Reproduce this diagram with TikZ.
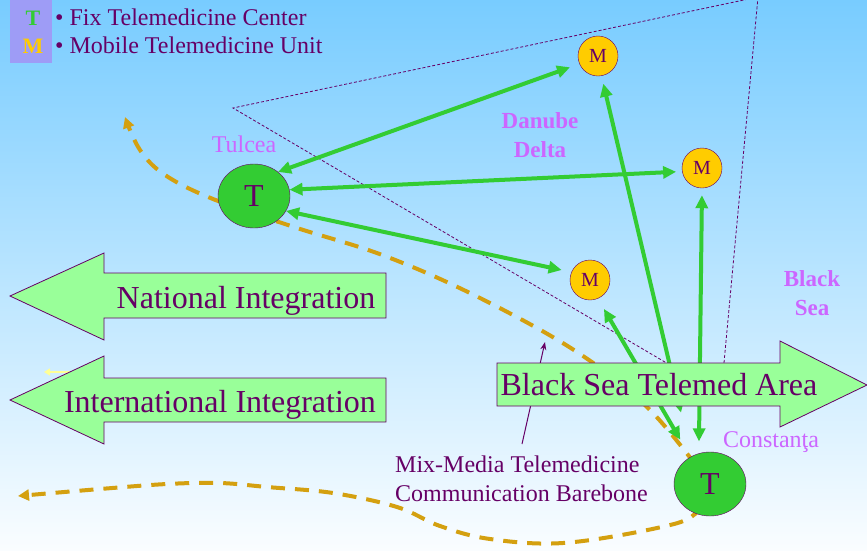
\documentclass[tikz,border=0pt]{standalone}
\usepackage{fontspec}
\setmainfont{Liberation Serif}
\usetikzlibrary{arrows.meta,shapes.geometric}
\definecolor{txtpurple}{RGB}{102,0,102}
\definecolor{cityviolet}{RGB}{204,102,255}
\definecolor{fixgreen}{RGB}{51,204,51}
\definecolor{mobyellow}{RGB}{255,204,0}
\definecolor{routegold}{RGB}{212,160,16}
\definecolor{areagreen}{RGB}{153,255,153}
\definecolor{legendblue}{RGB}{158,156,246}
\definecolor{sparkyellow}{RGB}{255,255,150}
\definecolor{skytop}{RGB}{120,204,255}
\definecolor{skybottom}{RGB}{250,253,255}

\begin{document}
\begin{tikzpicture}[x=1pt,y=-1pt]
  \tikzstyle{fix}=[ellipse,draw=txtpurple,fill=fixgreen,minimum width=72pt,minimum height=64pt,inner sep=0pt,text=txtpurple,font=\fontsize{32}{36}\selectfont]
  \tikzstyle{mobile}=[circle,draw=txtpurple,fill=mobyellow,minimum size=40pt,inner sep=0pt,text=txtpurple,font=\fontsize{20}{24}\selectfont]
  \tikzstyle{link}=[{Triangle[length=13pt,width=12pt]}-{Triangle[length=13pt,width=12pt]},line width=4pt,draw=fixgreen]
  \tikzstyle{route}=[-{Triangle[length=11pt,width=11pt]},line width=4pt,draw=routegold,dash pattern=on 14pt off 10pt]
  \tikzstyle{zone}=[draw=txtpurple,line width=0.8pt,dash pattern=on 3pt off 2pt]
  \tikzstyle{area}=[draw=txtpurple,fill=areagreen,line width=0.8pt]
  \tikzstyle{areatext}=[anchor=base,inner sep=0pt,text=txtpurple,font=\fontsize{32}{38}\selectfont]
  \tikzstyle{plain}=[anchor=base west,inner sep=0pt,text=txtpurple,font=\fontsize{24}{28.8}\selectfont]
  \tikzstyle{key}=[anchor=base,inner sep=0pt,font=\fontsize{22}{26}\selectfont\bfseries]
  \tikzstyle{city}=[anchor=base,inner sep=0pt,text=cityviolet,font=\fontsize{24}{29}\selectfont]
  \tikzstyle{sea}=[anchor=base,inner sep=0pt,align=center,text=cityviolet,font=\fontsize{23}{28.7}\selectfont\bfseries]

  \useasboundingbox (0,0) rectangle (867,550);
  \shade[top color=skytop,bottom color=skybottom] (0,0) rectangle (867,550);

  \fill[legendblue] (10,0) rectangle (52,63);
  \node[key,text=fixgreen] (keyT) at (33,25) {T};
  \node[key,text=mobyellow] (keyM) at (33,53) {M};
  \node[plain] (keyfix) at (55,25) {• Fix Telemedicine Center};
  \node[plain] (keymobile) at (55,53) {• Mobile Telemedicine Unit};

  \begin{scope}
    \clip (0,0) rectangle (867,550);
    \draw[zone] (758,-3) -- (233,108) -- (721,395) -- cycle;
  \end{scope}

  \coordinate (tulcea) at (254,196);
  \coordinate (constanta) at (710,484);
  \coordinate (spark) at (70,372);

  \draw[route] plot[smooth,tension=0.6] coordinates {(constanta) (650,410) (577,352) (478,297) (385,256) (294,227) (213,199) (165,175) (140,150) (125,117)};
  \draw[route] plot[smooth,tension=0.6] coordinates {(constanta) (695,514) (657,528) (563,543) (490,539) (440,526) (397,507) (333,493) (267,487) (220,483) (167,484) (100,489) (18,496)};

  \node[fix] (TT) at (tulcea) {T};
  \node[fix] (CT) at (constanta) {T};
  \foreach \name/\pos in {M1/{(598,56)}, M2/{(702,168)}, M3/{(590,280)}}
    \node[mobile] (\name) at \pos {M};

  \foreach \from/\to/\gapa/\gapb in {TT.45/M1.203/0/10, TT.10/M2.190/0/6, TT.-25/M3.157/0/10,
                                     M1.-80/CT.124/8/45, M2.south/CT.110/7/12, M3.-67/CT.126/12/20}
    { \draw[link,shorten <=\gapa pt,shorten >=\gapb pt] (\from) -- (\to); }

  \node[plain,align=left] (barebone) at (395,501) {Mix-Media Telemedicine\\Communication Barebone};
  \coordinate (barebonetip) at (545,342);
  \draw[-{Stealth[length=8pt,width=6pt]},draw=txtpurple,line width=1pt] (522,444) -- (barebonetip);

  \draw[-{Triangle[length=6pt,width=7pt]},draw=sparkyellow,line width=2pt] (spark) -- ++(-26,0);

  \draw[area] (386,273) -- (104,273) -- (104,253) -- (10,296) -- (104,340) -- (104,318) -- (386,318) -- cycle;
  \draw[area] (386,378) -- (104,378) -- (104,356) -- (10,400) -- (104,444) -- (104,422) -- (386,422) -- cycle;
  \draw[area] (497,363) -- (780,363) -- (780,341) -- (867,385) -- (780,427) -- (780,406) -- (497,406) -- cycle;
  \node[areatext] (national) at (246,308) {National Integration};
  \node[areatext] (international) at (220,412) {International Integration};
  \node[areatext] (blacksea) at (659,395) {Black Sea Telemed Area};

  \node[city] (tulcealabel) at (244,152) {Tulcea};
  \node[city] (constantalabel) at (771,447) {Constanţa};
  \node[sea] (danube) at (540,157) {Danube\\Delta};
  \node[sea] (sea) at (812,315) {Black\\Sea};
\end{tikzpicture}
\end{document}
